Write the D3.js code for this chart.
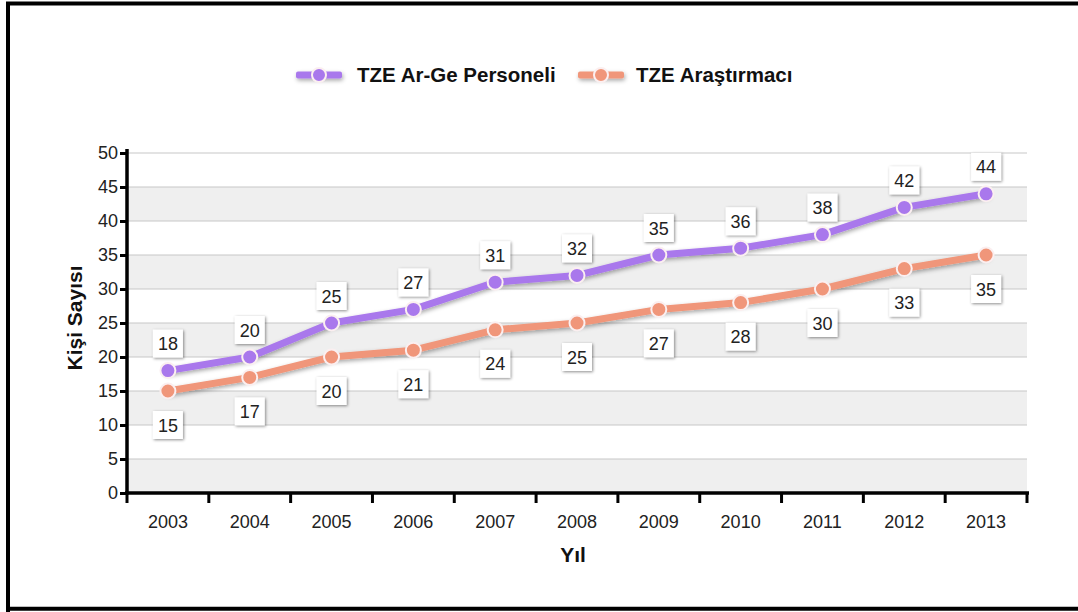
<!DOCTYPE html>
<html><head><meta charset="utf-8">
<script src="https://cdn.jsdelivr.net/npm/d3@7"></script>
<style>body{margin:0;background:#fff;} svg{display:block;font-family:"Liberation Sans",Arial,sans-serif;}</style>
</head><body>
<svg id="c" width="1078" height="612"></svg>
<script>
const years = ["2003","2004","2005","2006","2007","2008","2009","2010","2011","2012","2013"];
const personel = [18,20,25,27,31,32,35,36,38,42,44];
const arastirmaci = [15,17,20,21,24,25,27,28,30,33,35];
const yTicks = [0,5,10,15,20,25,30,35,40,45,50];
const seriesNames = ["TZE Ar-Ge Personeli","TZE Araştırmacı"];
const colors = ["#a978ec","#f0967a"];

const svg = d3.select("#c");
const defs = svg.append("defs");
const f = defs.append("filter").attr("id","sh").attr("filterUnits","userSpaceOnUse").attr("x",0).attr("y",0).attr("width",1078).attr("height",612);
f.append("feDropShadow").attr("dx",1).attr("dy",2).attr("stdDeviation",2).attr("flood-color","#000").attr("flood-opacity",0.35);
const f2 = defs.append("filter").attr("id","bsh").attr("x","-30%").attr("y","-30%").attr("width","160%").attr("height","160%");
f2.append("feDropShadow").attr("dx",1).attr("dy",1).attr("stdDeviation",1.6).attr("flood-color","#000").attr("flood-opacity",0.45);

// frame
svg.append("path").attr("d","M8,612 V3.5 H1080").attr("fill","none").attr("stroke","#000").attr("stroke-width",4);
svg.append("line").attr("x1",6).attr("x2",1080).attr("y1",608.7).attr("y2",608.7).attr("stroke","#000").attr("stroke-width",4);

const L=127, R=1027, T=153, B=493;
const x = d3.scaleBand().domain(years).range([L,R]);
const y = d3.scaleLinear().domain([0,50]).range([B,T]);

// alternating bands
const g = svg.append("g");
for(let i=0;i<yTicks.length-1;i++){
  if(i%2===0){
    g.append("rect").attr("x",L).attr("width",R-L)
     .attr("y",y(yTicks[i+1])).attr("height",y(yTicks[i])-y(yTicks[i+1])).attr("fill","#efefef");
  }
}
g.selectAll("line.grid").data(yTicks.slice(1)).join("line").attr("class","grid")
 .attr("x1",L).attr("x2",R).attr("y1",d=>y(d)).attr("y2",d=>y(d)).attr("stroke","#c8c8c8").attr("stroke-width",1.2);

// axes
const yAxis = svg.append("g").attr("transform",`translate(${L},0)`)
  .call(d3.axisLeft(y).tickValues(yTicks).tickSize(7).tickPadding(2));
yAxis.select(".domain").attr("stroke","#000").attr("stroke-width",3.5).attr("d",`M0,${T-4}V${B+1.5}`);
yAxis.selectAll(".tick line").attr("stroke","#000").attr("stroke-width",3);
yAxis.selectAll("text").attr("font-size",18).attr("fill","#222").attr("font-family","Liberation Sans, Arial, sans-serif");

const xAxis = svg.append("g").attr("transform",`translate(0,${B})`);
xAxis.append("line").attr("x1",L-2).attr("x2",R+2).attr("y1",0).attr("y2",0).attr("stroke","#000").attr("stroke-width",3.5);
const bounds = years.map(d=>x(d)).concat([R]);
xAxis.selectAll("line.tk").data(bounds).join("line").attr("class","tk")
  .attr("x1",d=>d).attr("x2",d=>d).attr("y1",0).attr("y2",10).attr("stroke","#000").attr("stroke-width",3);
xAxis.selectAll("text").data(years).join("text")
  .attr("x",d=>x(d)+x.bandwidth()/2).attr("y",34.5).attr("text-anchor","middle")
  .attr("font-size",18).attr("fill","#222").text(d=>d);

// axis titles
svg.append("text").attr("transform","translate(82,318) rotate(-90)").attr("text-anchor","middle")
  .attr("font-size",21).attr("font-weight","bold").attr("fill","#111").text("Kişi Sayısı");
svg.append("text").attr("x",573).attr("y",562).attr("text-anchor","middle")
  .attr("font-size",21).attr("font-weight","bold").attr("fill","#111").text("Yıl");

// lines
const cx = d=>x(d)+x.bandwidth()/2;
const data = [personel, arastirmaci];
const line = d3.line().x((d,i)=>cx(years[i])).y(d=>y(d));
data.forEach((s,k)=>{
  svg.append("path").datum(s).attr("d",line).attr("fill","none").attr("stroke",colors[k])
    .attr("stroke-width",7).attr("stroke-linejoin","round").attr("stroke-linecap","round").attr("filter","url(#sh)");
  svg.selectAll(null).data(s).join("circle").attr("cx",(d,i)=>cx(years[i])).attr("cy",d=>y(d))
    .attr("r",7.5).attr("fill",colors[k]).attr("stroke","#fbeff0").attr("stroke-width",2);
});

// labels
const offs = [-27, 34];
data.forEach((s,k)=>{
  const lg = svg.append("g");
  s.forEach((v,i)=>{
    const px = cx(years[i]), py = y(v)+offs[k];
    lg.append("rect").attr("x",px-15).attr("y",py-14).attr("width",30).attr("height",28)
      .attr("fill","#fff").attr("filter","url(#bsh)");
    lg.append("text").attr("x",px).attr("y",py+6.5).attr("text-anchor","middle")
      .attr("font-size",18).attr("fill","#222").text(v);
  });
});

// legend
const leg = [{x:296,tx:357},{x:578,tx:636}];
seriesNames.forEach((n,k)=>{
  const lx = leg[k].x, ly = 75;
  svg.append("rect").attr("x",lx).attr("y",ly-3.5).attr("width",46).attr("height",7).attr("rx",2)
    .attr("fill",colors[k]).attr("filter","url(#sh)");
  svg.append("circle").attr("cx",lx+23).attr("cy",ly).attr("r",7).attr("fill",colors[k])
    .attr("stroke","#fbeff0").attr("stroke-width",2);
  svg.append("text").attr("x",leg[k].tx).attr("y",ly+7).attr("font-size",20.5).attr("font-weight","bold")
    .attr("fill","#111").text(n);
});
</script>
</body></html>
